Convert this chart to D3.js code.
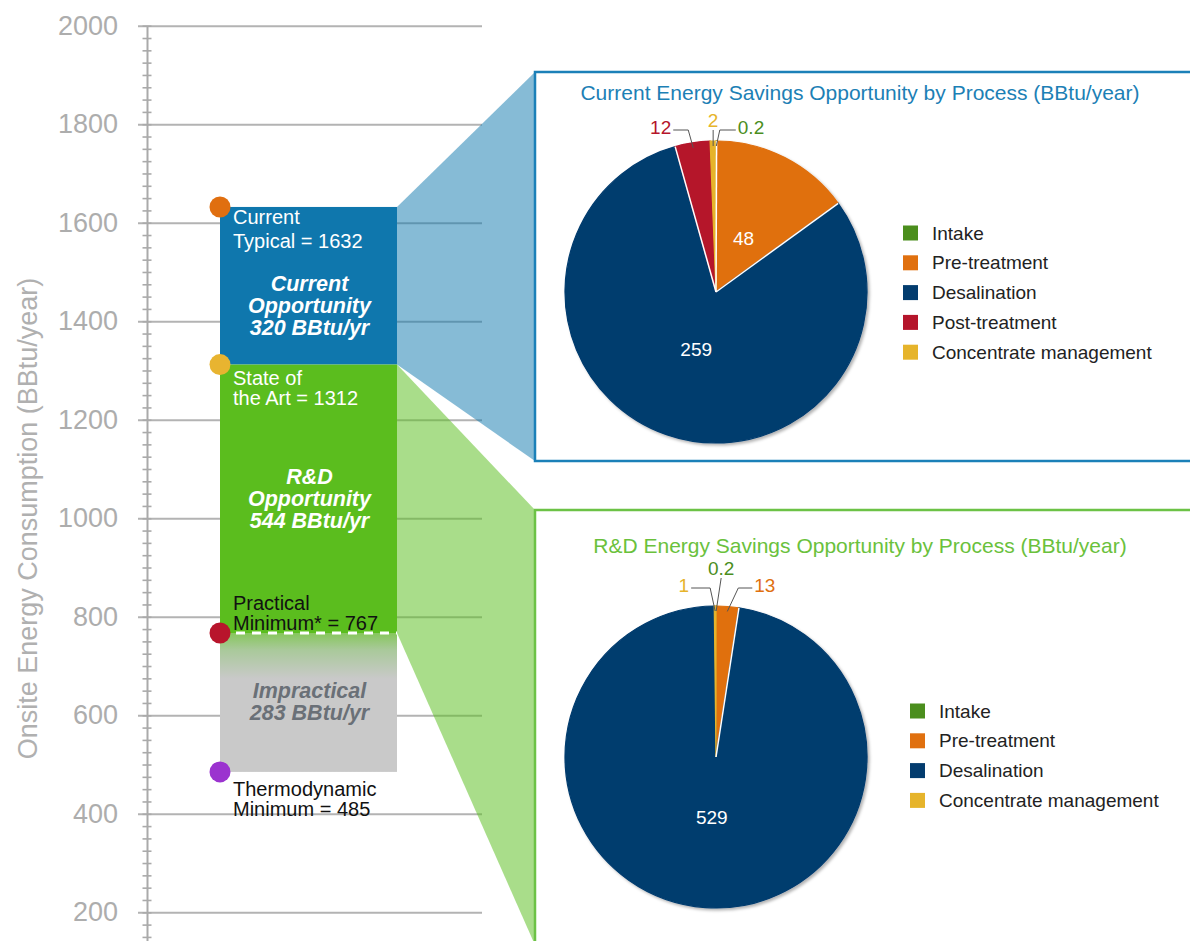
<!DOCTYPE html>
<html lang="en">
<head>
<meta charset="UTF-8">
<title>Onsite Energy Consumption and Savings Opportunity</title>
<script src="https://d3js.org/d3.v7.min.js"></script>
<style>
  body { margin: 0; background: #fff; }
  svg text { font-family: "Liberation Sans", Arial, Helvetica, sans-serif; }
  .tick-label { font-size: 27px; fill: #adadad; }
  .axis-title { font-size: 27px; fill: #b0b0b0; }
  .level-label { font-size: 20px; }
  .band-label { font-size: 21.5px; font-weight: bold; font-style: italic; }
  .pie-title { font-size: 21px; }
  .legend-text { font-size: 19px; fill: #222; }
  .slice-label { font-size: 19px; }
</style>
</head>
<body>
<svg id="chart" width="1190" height="941"></svg>
<script>
// ---- data ----
const yTicks = [200, 400, 600, 800, 1000, 1200, 1400, 1600, 1800, 2000];

const levelNames = ["Current Typical", "State of the Art", "Practical Minimum*", "Thermodynamic Minimum"];
const levelValues = [1632, 1312, 767, 485];
const levelColors = ["#e06f10", "#e8b430", "#b8152c", "#9b33cf"];
const levelLabelLines = [
  ["Current", "Typical = 1632"],
  ["State of", "the Art = 1312"],
  ["Practical", "Minimum* = 767"],
  ["Thermodynamic", "Minimum = 485"]
];

const bandNames = ["Current Opportunity", "R&D Opportunity", "Impractical"];
const bandValues = [320, 544, 283];
const bandLabelLines = [
  ["Current", "Opportunity", "320 BBtu/yr"],
  ["R&D", "Opportunity", "544 BBtu/yr"],
  ["Impractical", "283 BBtu/yr"]
];

const processNames = ["Intake", "Pre-treatment", "Desalination", "Post-treatment", "Concentrate management"];
const processColors = ["#4b8e1d", "#e0700f", "#033c6e", "#b5152b", "#e6b42b"];
const currentSavings = [0.2, 48, 259, 12, 2];

const rdProcesses = ["Intake", "Pre-treatment", "Desalination", "Concentrate management"];
const rdSavings = [0.2, 13, 529, 1];

// ---- layout ----
const svg = d3.select("#chart");
const y = d3.scaleLinear().domain([0, 2000]).range([1010.8, 25.7]);
const axisX = 147, gridX0 = 138, gridX1 = 482;
const barX0 = 220, barX1 = 397;
const boxX = 535;

const color = d3.scaleOrdinal().domain(processNames).range(processColors);

const defs = svg.append("defs");
const grad = defs.append("linearGradient")
  .attr("id", "fade").attr("x1", 0).attr("y1", 0).attr("x2", 0).attr("y2", 1);
grad.append("stop").attr("offset", 0).attr("stop-color", "#86c65c");
grad.append("stop").attr("offset", 0.12).attr("stop-color", "#a9c99a");
grad.append("stop").attr("offset", 0.33).attr("stop-color", "#c9c9c9");
grad.append("stop").attr("offset", 1).attr("stop-color", "#c9c9c9");

const shadow = defs.append("filter").attr("id", "shadow")
  .attr("x", "-10%").attr("y", "-10%").attr("width", "120%").attr("height", "120%");
shadow.append("feDropShadow").attr("dx", 2).attr("dy", 2).attr("stdDeviation", 1.5)
  .attr("flood-color", "#000").attr("flood-opacity", 0.3);

// gridlines
svg.append("g")
  .attr("transform", `translate(${gridX0},0)`)
  .call(d3.axisRight(y).tickValues(yTicks).tickSize(gridX1 - gridX0).tickFormat(""))
  .call(g => g.select(".domain").remove())
  .call(g => g.selectAll("line").attr("stroke", "#b3b3b3").attr("stroke-width", 2));

// minor ticks + axis line
const minor = d3.range(0, 2001, 25);
svg.append("g")
  .attr("transform", `translate(${axisX},0)`)
  .call(d3.axisLeft(y).tickValues(minor).tickSize(4.5).tickSizeOuter(0).tickFormat(""))
  .call(g => g.select(".domain").attr("stroke", "#aaaaaa").attr("stroke-width", 2))
  .call(g => g.selectAll("line").attr("stroke", "#aaaaaa").attr("stroke-width", 1.6));
svg.append("g")
  .attr("transform", `translate(${axisX},0)`)
  .call(d3.axisRight(y).tickValues(minor).tickSize(4.5).tickSizeOuter(0).tickFormat(""))
  .call(g => g.select(".domain").remove())
  .call(g => g.selectAll("line").attr("stroke", "#aaaaaa").attr("stroke-width", 1.6));

// tick labels
svg.append("g")
  .attr("transform", `translate(${gridX0},0)`)
  .call(d3.axisLeft(y).tickValues(yTicks).tickSize(0).tickPadding(20).tickFormat(d3.format("d")))
  .call(g => g.select(".domain").remove())
  .call(g => g.selectAll("text").attr("class", "tick-label").attr("font-family", null).attr("font-size", null).attr("fill", null));

svg.append("text")
  .attr("class", "axis-title")
  .attr("transform", `translate(37,${(262 + 775) / 2}) rotate(-90)`)
  .attr("text-anchor", "middle")
  .text("Onsite Energy Consumption (BBtu/year)");

// connector polygons to the pie boxes
const box1 = { top: 72, bottom: 461 };
const box2 = { top: 510, bottom: 945 };
svg.append("polygon")
  .attr("points", [[barX1, y(levelValues[0])], [boxX, box1.top], [boxX, box1.bottom], [barX1, y(levelValues[1])]].join(" "))
  .attr("fill", "#0e77ad").attr("fill-opacity", 0.5);
svg.append("polygon")
  .attr("points", [[barX1, y(levelValues[1])], [boxX, box2.top], [boxX, box2.bottom], [barX1, y(levelValues[2])]].join(" "))
  .attr("fill", "#5bbd1e").attr("fill-opacity", 0.52);

// stacked opportunity bands
const bandFills = ["#0f77ad", "#5bbd1e", "url(#fade)"];
const bandTextColors = ["#fff", "#fff", "#6a7077"];
const bandTextShift = [20, 0, 0];
const bands = bandNames.map((name, i) => ({
  name, value: bandValues[i], top: levelValues[i], bottom: levelValues[i + 1],
  lines: bandLabelLines[i], fill: bandFills[i], textColor: bandTextColors[i], shift: bandTextShift[i]
}));

svg.selectAll(".band").data(bands).join("rect")
  .attr("class", "band")
  .attr("x", barX0).attr("width", barX1 - barX0)
  .attr("y", d => y(d.top))
  .attr("height", d => y(d.bottom) - y(d.top))
  .attr("fill", d => d.fill);

// dashed practical minimum line
svg.append("line")
  .attr("x1", barX0).attr("x2", barX1)
  .attr("y1", y(levelValues[2])).attr("y2", y(levelValues[2]))
  .attr("stroke", "#fff").attr("stroke-width", 3).attr("stroke-dasharray", "9,7");

// band labels
const bandLineH = 22;
bands.forEach(b => {
  const mid = (y(b.top) + y(b.bottom)) / 2 + b.shift;
  const first = mid - (b.lines.length - 1) * bandLineH / 2 + 7;
  const t = svg.append("text").attr("class", "band-label")
    .attr("text-anchor", "middle").attr("fill", b.textColor);
  b.lines.forEach((ln, j) => {
    t.append("tspan").attr("x", (barX0 + barX1) / 2 + 1).attr("y", first + j * bandLineH).text(ln);
  });
});

// level markers
const levelFirstDy = [17, 20, -23, 24];
const levelLineH = [24.5, 20, 20, 20];
const levelTextColors = ["#fff", "#fff", "#111", "#111"];
svg.selectAll(".level-dot").data(levelValues).join("circle")
  .attr("class", "level-dot")
  .attr("cx", barX0).attr("cy", d => y(d)).attr("r", 10.5)
  .attr("fill", (d, i) => levelColors[i]);

levelValues.forEach((v, i) => {
  const t = svg.append("text").attr("class", "level-label").attr("fill", levelTextColors[i]);
  levelLabelLines[i].forEach((ln, j) => {
    t.append("tspan").attr("x", 233).attr("y", y(v) + levelFirstDy[i] + j * levelLineH[i]).text(ln);
  });
});

// ---- pie panels ----
function piePanel(cfg) {
  const g = svg.append("g");
  g.append("rect")
    .attr("x", boxX).attr("y", cfg.boxTop)
    .attr("width", 1190 - boxX + 20).attr("height", cfg.boxHeight)
    .attr("fill", "#fff").attr("stroke", cfg.border).attr("stroke-width", 2.5);
  g.append("text").attr("class", "pie-title")
    .attr("x", 860).attr("y", cfg.titleY).attr("text-anchor", "middle")
    .attr("fill", cfg.titleColor).text(cfg.title);

  const items = cfg.names.map((n, i) => ({ name: n, value: cfg.values[i] }));
  const arcs = d3.pie().sort(null).value(d => d.value)(items);
  const r = 151;
  const arc = d3.arc().innerRadius(0).outerRadius(r);
  const labelArc = d3.arc().innerRadius(0).outerRadius(r * 0.8);

  const pg = g.append("g").attr("transform", `translate(${cfg.cx},${cfg.cy})`);
  pg.append("g").attr("filter", "url(#shadow)")
    .selectAll("path").data(arcs).join("path")
    .attr("d", arc)
    .attr("fill", d => color(d.data.name))
    .attr("stroke", d => color(d.data.name))
    .attr("stroke-width", 1.2);
  // thin white separators
  pg.selectAll(".sep").data(arcs).join("line")
    .attr("class", "sep")
    .attr("x1", 0).attr("y1", 0)
    .attr("x2", d => r * Math.sin(d.startAngle))
    .attr("y2", d => -r * Math.cos(d.startAngle))
    .attr("stroke", "#fff").attr("stroke-width", d => (d.endAngle - d.startAngle) > 0.2 ? 1.5 : 0);

  // inside labels
  pg.selectAll(".inside").data(arcs.filter(d => !cfg.callouts[d.data.name])).join("text")
    .attr("class", "slice-label")
    .attr("transform", d => `translate(${labelArc.centroid(d)})`)
    .attr("text-anchor", "middle").attr("dy", "0.35em")
    .attr("fill", "#fff")
    .text(d => d.data.value);

  // callouts for thin slices
  arcs.filter(d => cfg.callouts[d.data.name]).forEach(d => {
    const c = cfg.callouts[d.data.name];
    const a = (d.startAngle + d.endAngle) / 2;
    const ax = 146 * Math.sin(a), ay = -146 * Math.cos(a);
    const ex = ax + c.ex, ey = c.ey;
    const hx = ex + c.run;
    pg.append("polyline")
      .attr("points", [[ax, ay], [ex, ey], [hx, ey]].join(" "))
      .attr("fill", "none").attr("stroke", "#555").attr("stroke-width", 1);
    const t = pg.append("text").attr("class", "slice-label")
      .attr("fill", color(d.data.name)).text(d.data.value);
    if (c.run < 0) t.attr("x", hx - 2).attr("y", ey + 4).attr("text-anchor", "end");
    else if (c.run > 0) t.attr("x", hx + 2).attr("y", ey + 4).attr("text-anchor", "start");
    else t.attr("x", hx).attr("y", ey - 3).attr("text-anchor", "middle");
  });

  // legend
  const lg = g.append("g");
  cfg.names.forEach((n, i) => {
    const yy = cfg.legendY + i * 29.8;
    lg.append("rect").attr("x", cfg.legendX).attr("y", yy - 7.5)
      .attr("width", 15).attr("height", 15).attr("fill", color(n));
    lg.append("text").attr("class", "legend-text")
      .attr("x", cfg.legendX + 29).attr("y", yy).attr("dy", "0.35em").text(n);
  });
}

piePanel({
  boxTop: box1.top, boxHeight: box1.bottom - box1.top, border: "#1b80b8",
  title: "Current Energy Savings Opportunity by Process (BBtu/year)",
  titleColor: "#1c80b5", titleY: 100,
  names: processNames, values: currentSavings,
  cx: 716, cy: 292,
  callouts: {
    "Post-treatment": { ex: -5, ey: -162, run: -15 },
    "Concentrate management": { ex: 0, ey: -162, run: 0 },
    "Intake": { ex: 3.5, ey: -162, run: 16 }
  },
  legendX: 903, legendY: 233
});

piePanel({
  boxTop: box2.top, boxHeight: 500, border: "#6cc246",
  title: "R&D Energy Savings Opportunity by Process (BBtu/year)",
  titleColor: "#6ac13c", titleY: 553,
  names: rdProcesses, values: rdSavings,
  cx: 716, cy: 757,
  callouts: {
    "Concentrate management": { ex: -5, ey: -169, run: -19 },
    "Intake": { ex: 5, ey: -179, run: 0 },
    "Pre-treatment": { ex: 11, ey: -169, run: 14 }
  },
  legendX: 910, legendY: 711
});
</script>
</body>
</html>
